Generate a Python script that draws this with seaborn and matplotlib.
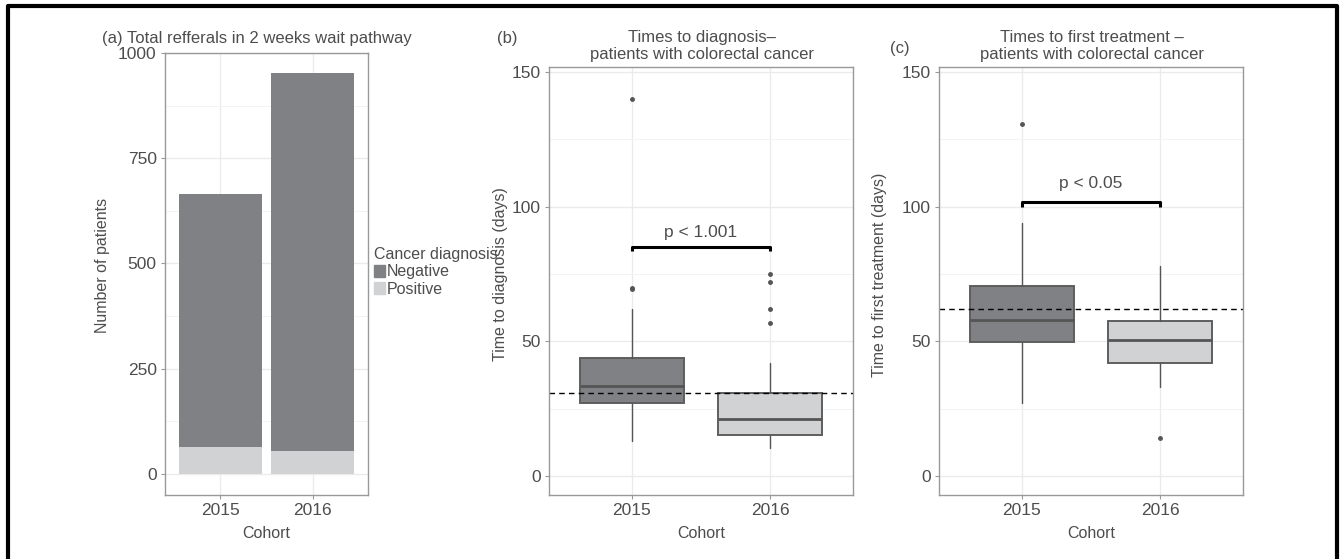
import numpy as np
import pandas as pd
import matplotlib
matplotlib.use('Agg')
import matplotlib.pyplot as plt
from matplotlib.patches import Patch
from matplotlib.lines import Line2D
import seaborn as sns

# -- data --
COHORTS = ['2015', '2016']
NEGATIVE = [601, 897]          # referrals without cancer
POSITIVE = [63, 55]            # referrals with cancer

# boxplot summaries (days): time to diagnosis
DIAG_WHISLO = [13, 10.3]
DIAG_Q1 = [27.1, 15.1]
DIAG_MED = [33.5, 21.1]
DIAG_Q3 = [43.9, 31.0]
DIAG_WHISHI = [62, 42]
DIAG_FLIERS = [[69.5, 70, 140], [57, 62, 72, 75]]
DIAG_TARGET = 31
DIAG_P = 'p < 1.001'

# boxplot summaries (days): time to first treatment
TREAT_WHISLO = [27, 33.2]
TREAT_Q1 = [49.9, 42]
TREAT_MED = [58, 50.6]
TREAT_Q3 = [70.6, 57.7]
TREAT_WHISHI = [93.9, 78]
TREAT_FLIERS = [[130.9], [14]]
TREAT_TARGET = 62
TREAT_P = 'p < 0.05'

DARK = '#808184'
LIGHT = '#d1d2d4'
TXT = '#4d4d4d'

W, H = 1341, 559

sns.set_style('white')
plt.rcParams['font.family'] = ['Liberation Sans', 'DejaVu Sans']

FS_TICK = 12.5
FS_TITLE = 12
FS_LAB = 11.5


def px_axes(fig, left, right, top, bottom):
    return fig.add_axes([left / W, 1 - bottom / H, (right - left) / W, (bottom - top) / H])


def style_axes(ax, major, minor, ylim):
    ax.set_xlim(-0.6, 1.6)
    ax.set_ylim(*ylim)
    ax.set_yticks(major)
    ax.set_yticks(minor, minor=True)
    ax.set_xticks([0, 1])
    ax.set_xticklabels(COHORTS)
    ax.set_axisbelow(True)
    ax.grid(True, which='major', color='#ebebeb', lw=1.0)
    ax.grid(True, which='minor', axis='y', color='#f3f3f3', lw=0.7)
    ax.tick_params(which='major', length=3, width=0.8, color='#999999', pad=3,
                   labelsize=FS_TICK, labelcolor=TXT, left=True, bottom=True)
    ax.tick_params(which='minor', length=0)
    for s in ax.spines.values():
        s.set_color('#999999')
        s.set_linewidth(1.0)
    ax.set_xlabel('Cohort', fontsize=FS_LAB, color=TXT)
    ax.xaxis.set_label_coords(0.5, -0.073)


def box_panel(ax, whislo, q1, med, q3, whishi, fliers, target, ptxt, pbar, ptext_y):
    stats = []
    for i in range(len(COHORTS)):
        stats.append(dict(whislo=whislo[i], q1=q1[i], med=med[i], q3=q3[i],
                          whishi=whishi[i], fliers=fliers[i]))
    bp = ax.bxp(stats, positions=[0, 1], widths=0.75, patch_artist=True, showcaps=False,
                boxprops=dict(edgecolor='#5e5e5e', linewidth=1.4),
                medianprops=dict(color='#555555', linewidth=2),
                whiskerprops=dict(color='#555555', linewidth=1),
                flierprops=dict(marker='o', markersize=2.5, markerfacecolor='#555555',
                                markeredgecolor='#555555'))
    for patch, c in zip(bp['boxes'], [DARK, LIGHT]):
        patch.set_facecolor(c)
    ax.axhline(target, ls=(0, (4, 3)), color='black', lw=1)
    ax.plot([0, 0, 1, 1], [pbar - 1.6, pbar, pbar, pbar - 1.6], color='black', lw=2.2,
            solid_capstyle='butt')
    ax.text(0.5, ptext_y, ptxt, ha='center', va='center', fontsize=FS_TICK, color=TXT)


fig = plt.figure(figsize=(W / 100, H / 100), dpi=100)

# ---- (a) stacked bars ----
ax_a = px_axes(fig, 165, 368, 53, 495)
totals = [n + p for n, p in zip(NEGATIVE, POSITIVE)]
df_a = pd.DataFrame({'Cohort': COHORTS, 'Total': totals, 'Positive': POSITIVE})
sns.barplot(data=df_a, x='Cohort', y='Total', color=DARK, saturation=1, width=0.9,
            linewidth=0, ax=ax_a)
sns.barplot(data=df_a, x='Cohort', y='Positive', color=LIGHT, saturation=1, width=0.9,
            linewidth=0, ax=ax_a)
style_axes(ax_a, [0, 250, 500, 750, 1000], [125, 375, 625, 875], (-50, 1000))
ax_a.xaxis.set_label_coords(0.5, -0.071)
ax_a.set_ylabel('Number of patients', fontsize=FS_LAB, color=TXT)
ax_a.yaxis.set_label_coords(-0.27, 0.52)
fig.text(102 / W, 1 - 38.5 / H, '(a) Total refferals in 2 weeks wait pathway',
         ha='left', va='center', fontsize=FS_TITLE, color=TXT)

fig.legend(handles=[Patch(color=DARK, label='Negative'), Patch(color=LIGHT, label='Positive')],
           title='Cancer diagnosis', loc='upper left', bbox_to_anchor=(374 / W, 1 - 247 / H),
           frameon=False, fontsize=FS_LAB, title_fontsize=FS_LAB, handlelength=0.7,
           handleheight=0.8, handletextpad=0.1, labelspacing=0.15, borderpad=0,
           borderaxespad=0, alignment='left', labelcolor=TXT)
fig.legends[0].get_title().set_color(TXT)

# ---- (b) time to diagnosis ----
ax_b = px_axes(fig, 549, 853, 67, 495)
box_panel(ax_b, DIAG_WHISLO, DIAG_Q1, DIAG_MED, DIAG_Q3, DIAG_WHISHI, DIAG_FLIERS,
          DIAG_TARGET, DIAG_P, 85.1, 90.5)
style_axes(ax_b, [0, 50, 100, 150], [25, 75, 125], (-7, 151.9))
ax_b.set_ylabel('Time to diagnosis (days)', fontsize=FS_LAB, color=TXT)
ax_b.yaxis.set_label_coords(-0.135, 0.516)
fig.text(497 / W, 1 - 38.5 / H, '(b)', ha='left', va='center', fontsize=FS_TITLE, color=TXT)
fig.text(702 / W, 1 - 46 / H, 'Times to diagnosis\u2013\npatients with colorectal cancer',
         ha='center', va='center', fontsize=FS_TITLE, color=TXT, linespacing=1.2)

# ---- (c) time to first treatment ----
ax_c = px_axes(fig, 939, 1243, 67, 495)
box_panel(ax_c, TREAT_WHISLO, TREAT_Q1, TREAT_MED, TREAT_Q3, TREAT_WHISHI, TREAT_FLIERS,
          TREAT_TARGET, TREAT_P, 101.7, 108.8)
style_axes(ax_c, [0, 50, 100, 150], [25, 75, 125], (-7, 151.9))
ax_c.set_ylabel('Time to first treatment (days)', fontsize=FS_LAB, color=TXT)
ax_c.yaxis.set_label_coords(-0.172, 0.514)
fig.text(890 / W, 1 - 48 / H, '(c)', ha='left', va='center', fontsize=FS_TITLE, color=TXT)
fig.text(1092 / W, 1 - 46 / H, 'Times to first treatment \u2013\npatients with colorectal cancer',
         ha='center', va='center', fontsize=FS_TITLE, color=TXT, linespacing=1.2)

# frame around the figure (top, left, right)
fig.add_artist(Line2D([8 / W, 8 / W, 1337 / W, 1337 / W], [0, 1 - 6 / H, 1 - 6 / H, 0],
                      transform=fig.transFigure, color='black', lw=3))

fig.savefig('out.png', dpi=100)
plt.close(fig)
